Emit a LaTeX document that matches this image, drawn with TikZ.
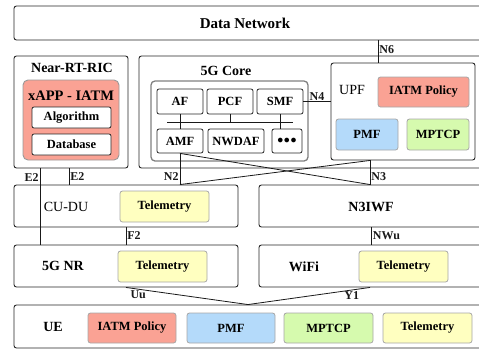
\documentclass[tikz,border=0pt]{standalone}
\usepackage{fontspec}
\setmainfont{Liberation Serif}
\usepackage{xcolor}
\usepackage{tikz}
\usetikzlibrary{calc}
\definecolor{iatmred}{RGB}{250,162,148}
\definecolor{pmfblue}{RGB}{180,218,250}
\definecolor{mpgreen}{RGB}{214,250,174}
\definecolor{telyel}{RGB}{255,255,192}
\newcommand{\fbig}{\fontsize{15}{17}\selectfont\bfseries}
\newcommand{\fttl}{\fontsize{14}{16}\selectfont}
\newcommand{\fin}{\fontsize{12.5}{14}\selectfont\bfseries}
\newcommand{\flb}{\fontsize{12}{13}\selectfont\bfseries}
\tikzset{
  area/.style={rectangle, draw=black!85, line width=0.9pt, rounded corners=2.5pt, inner sep=0pt},
  grp/.style={rectangle, draw=black!50, line width=1.3pt, rounded corners=4pt, inner sep=0pt},
  fn/.style={rectangle, draw=black!85, line width=0.8pt, rounded corners=2pt, fill=white,
             font=\fin, inner sep=0pt},
  tag/.style={rectangle, draw=black!35, line width=0.8pt, rounded corners=2.5pt,
              font=\fin, inner sep=0pt, minimum height=30pt},
  ttl/.style={font=\fttl\bfseries, inner sep=1pt},
  ttlr/.style={font=\fttl, inner sep=1pt},
  ln/.style={line width=0.8pt, black!90},
  lbl/.style={font=\flb, inner sep=1pt},
}

\begin{document}
\begin{tikzpicture}[x=1pt,y=-1pt]
\clip (0,0) rectangle (479,349);
\node[area, minimum width=476pt, minimum height=34pt] (dn) at (252,23) {};
\node[font=\fbig, inner sep=1pt] (dnt) at (245,23) {Data Network};

\node[area, minimum width=114pt, minimum height=112pt] (ric) at (71,112) {};
\node[ttl] (rict) at (72,68) {Near-RT-RIC};
\node[area, draw=black!40, fill=iatmred, rounded corners=5pt, minimum width=96pt, minimum height=80pt] (xapp) at (71,120) {};
\node[ttl, font=\fontsize{14.5}{16}\selectfont\bfseries] (xappt) at (71,96) {xAPP - IATM};
\node[fn, minimum width=79pt, minimum height=21pt] (algo) at (71.5,117.5) {Algorithm};
\node[fn, minimum width=79pt, minimum height=21pt] (db) at (71.5,144.5) {Database};

\node[area, minimum width=351pt, minimum height=112pt] (core) at (314.5,112) {};
\node[ttl] (coret) at (226,71) {5G Core};
\node[grp, minimum width=157pt, minimum height=80pt] (nf) at (229.5,121) {};
\node[fn, minimum width=46pt, minimum height=25pt] (af) at (180,101.5) {AF};
\node[fn, minimum width=46pt, minimum height=25pt] (pcf) at (230,101.5) {PCF};
\node[fn, minimum width=46pt, minimum height=25pt] (smf) at (280,101.5) {SMF};
\node[fn, minimum width=46pt, minimum height=24pt] (amf) at (180,141) {AMF};
\node[fn, minimum width=56pt, minimum height=24pt] (nwdaf) at (236,141) {NWDAF};
\node[fn, minimum width=30pt, minimum height=24pt] (more) at (287,141) {$\bullet\!\bullet\!\bullet$};
\coordinate (busl) at (167,122);
\coordinate (busr) at (293,122);

\node[area, minimum width=144pt, minimum height=97pt] (upf) at (403,111.5) {};
\node[ttlr] (upft) at (352,90) {UPF};
\node[tag, fill=iatmred, minimum width=91pt] (upfpol) at (423.5,92) {IATM Policy};
\node[tag, fill=pmfblue, minimum width=62pt, minimum height=31pt] (upfpmf) at (367,134.5) {PMF};
\node[tag, fill=mpgreen, minimum width=62pt, minimum height=31pt] (upfmp) at (438,134.5) {MPTCP};

\node[area, minimum width=224pt, minimum height=42pt] (cudu) at (126,206) {};
\node[ttlr] (cudut) at (66,207) {CU-DU};
\node[tag, fill=telyel, minimum width=89pt, minimum height=31pt] (cudutel) at (164.5,206.5) {Telemetry};
\node[area, minimum width=231pt, minimum height=42pt] (iwf) at (374.5,206) {};
\node[ttl] (iwft) at (371,207) {N3IWF};

\node[area, minimum width=224pt, minimum height=42pt] (nr) at (126,266) {};
\node[ttl] (nrt) at (63,266) {5G NR};
\node[tag, fill=telyel, minimum width=89pt, minimum height=31pt] (nrtel) at (162.5,266.5) {Telemetry};
\node[area, minimum width=231pt, minimum height=42pt] (wifi) at (374.5,266) {};
\node[ttl] (wifit) at (304,267) {WiFi};
\node[tag, fill=telyel, minimum width=89pt, minimum height=31pt] (wifitel) at (403.5,266.5) {Telemetry};

\node[area, minimum width=476pt, minimum height=43pt] (ue) at (252,326.5) {};
\node[ttl] (uet) at (53,327) {UE};
\node[tag, fill=iatmred, minimum width=88pt] (uepol) at (132,328) {IATM Policy};
\node[tag, fill=pmfblue, minimum width=88pt] (uepmf) at (231,328) {PMF};
\node[tag, fill=mpgreen, minimum width=89pt] (uemp) at (328.5,328) {MPTCP};
\node[tag, fill=telyel, minimum width=89pt] (uetel) at (427.5,328) {Telemetry};

\draw[ln] (busl) -- (busr);
\draw[ln] (af) -- (amf);
\draw[ln] (pcf.south) -- (pcf.south |- busl);
\draw[ln] (smf.south) -- (smf.south |- more.north);
\draw[ln] (smf.east) -- node[lbl, above]{N4} (smf.east -| upf.west);
\draw[ln] ([xshift=-25pt]upf.north |- dn.south) -- node[lbl, right, pos=0.4]{N6} ([xshift=-25pt]upf.north);
\draw[ln] ([xshift=-31pt]ric.south) -- node[lbl, left, pos=0.12]{E2} ([xshift=-31pt]ric.south |- nr.north);
\draw[ln] ([xshift=-2pt]ric.south) -- node[lbl, right, pos=0.5]{E2} ([xshift=-2pt]ric.south |- cudu.north);
\draw[ln] (amf.south) -- node[lbl, left, pos=0.75]{N2} (amf.south |- cudu.north);
\draw[ln] (amf.south) -- ([xshift=-33pt]upf.south |- iwf.north);
\draw[ln] ([xshift=-33pt]upf.south) -- node[lbl, right, pos=0.65]{N3} ([xshift=-33pt]upf.south |- iwf.north);
\draw[ln] ([xshift=-33pt]upf.south) -- (amf.south |- cudu.north);
\draw[ln] (cudu.south) -- node[lbl, right]{F2} (nr.north);
\draw[ln] ([xshift=-3pt]iwf.south) -- node[lbl, right]{NWu} ([xshift=-3pt]wifi.north);
\draw[ln] (nr.south) -- node[lbl, below, pos=0.1]{Uu} ([xshift=-4pt]ue.north);
\draw[ln] ([xshift=-4.5pt]wifi.south) -- node[lbl, below, pos=0.15]{Y1} ([xshift=-4pt]ue.north);
\end{tikzpicture}
\end{document}
